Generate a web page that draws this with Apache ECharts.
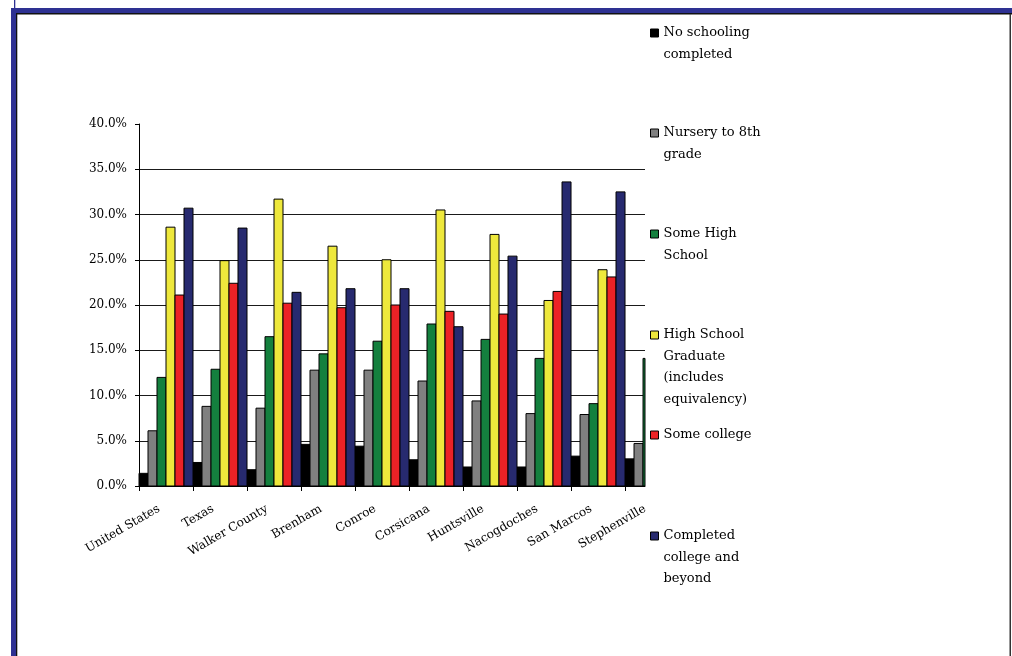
<!DOCTYPE html>
<html>
<head>
<meta charset="utf-8">
<title>Educational attainment</title>
<script src="https://cdn.jsdelivr.net/npm/echarts@6/dist/echarts.min.js"></script>
<style>
  html, body { margin: 0; padding: 0; background: #fff; }
  #main { width: 1012px; height: 656px; }
</style>
</head>
<body>
<div id="main"></div>
<script>
// categories
var places = ['United States', 'Texas', 'Walker County', 'Brenham', 'Conroe',
  'Corsicana', 'Huntsville', 'Nacogdoches', 'San Marcos', 'Stephenville'];
var levels = ['No schooling completed', 'Nursery to 8th grade', 'Some High School',
  'High School Graduate (includes equivalency)', 'Some college', 'Completed college and beyond'];
var legendLines = ['No schooling\ncompleted', 'Nursery to 8th\ngrade', 'Some High\nSchool',
  'High School\nGraduate\n(includes\nequivalency)', 'Some college', 'Completed\ncollege and\nbeyond'];

// percent values (Stephenville's last three are cut off in the original)
var noSchool = [1.4, 2.6, 1.8, 4.6, 4.4, 2.9, 2.1, 2.1, 3.3, 3.0];
var nursery = [6.1, 8.8, 8.6, 12.8, 12.8, 11.6, 9.4, 8.0, 7.9, 4.7];
var someHigh = [12.0, 12.9, 16.5, 14.6, 16.0, 17.9, 16.2, 14.1, 9.1, 14.1];
var hsGrad = [28.6, 24.9, 31.7, 26.5, 25.0, 30.5, 27.8, 20.5, 23.9, null];
var someCollege = [21.1, 22.4, 20.2, 19.7, 20.0, 19.3, 19.0, 21.5, 23.1, null];
var collegePlus = [30.7, 28.5, 21.4, 21.8, 21.8, 17.6, 25.4, 33.6, 32.5, null];

var yTicks = [0, 5, 10, 15, 20, 25, 30, 35, 40];

var allValues = [noSchool, nursery, someHigh, hsGrad, someCollege, collegePlus];
var colors = ['#000000', '#808080', '#14803e', '#eee83c', '#ec2226', '#272a6f'];

var serif = 'DejaVu Serif';
var chart = echarts.init(document.getElementById('main'));

// grouped bars drawn as custom rects so the last group can be cut at the plot edge
function renderBar(params, api) {
  var k = params.seriesIndex;
  var v = api.value(1);
  if (v == null || isNaN(v)) return;
  var base = api.coord([api.value(0), 0]);
  var next = api.coord([api.value(0) + 1, 0]);
  var top = api.coord([api.value(0), v]);
  var w = (next[0] - base[0]) / allValues.length;
  var cs = params.coordSys;
  var rect = echarts.graphic.clipRectByRect(
    { x: base[0] + k * w, y: top[1], width: w, height: base[1] - top[1] },
    { x: cs.x, y: cs.y, width: cs.width, height: cs.height }
  );
  if (!rect) return;
  return {
    type: 'rect',
    shape: rect,
    style: { fill: api.visual('color'), stroke: '#000', lineWidth: 1 }
  };
}

var series = allValues.map(function (vals, k) {
  return {
    name: levels[k],
    type: 'custom',
    xAxisIndex: 0,
    yAxisIndex: 0,
    renderItem: renderBar,
    itemStyle: { color: colors[k] },
    encode: { x: 0, y: 1 },
    data: vals.map(function (v, i) { return [i, v]; })
  };
});

// one legend block per entry, evenly spaced like the original
var iconCenters = [33, 133, 234, 335, 435, 536];
var lh = 21.5;
var legends = levels.map(function (name, k) {
  var n = legendLines[k].split('\n').length;
  var pad = '';
  for (var j = 1; j < n; j++) pad += ' \n';
  return {
    orient: 'vertical',
    left: 650,
    top: iconCenters[k] - (2 * n - 1) * lh / 2,
    padding: 0,
    icon: 'rect',
    itemWidth: 8,
    itemHeight: 8,
    selectedMode: false,
    itemStyle: { color: colors[k], borderColor: '#000', borderWidth: 1 },
    data: [name],
    formatter: function () { return pad + legendLines[k]; },
    textStyle: {
      fontFamily: serif,
      fontSize: 13,
      color: '#000',
      lineHeight: lh
    }
  };
});

var option = {
  animation: false,
  backgroundColor: '#fff',
  color: colors,
  graphic: [
    { type: 'rect', shape: { x: 14, y: 0, width: 1.3, height: 9 }, style: { fill: '#2e3192' } },
    { type: 'rect', shape: { x: 11, y: 8, width: 1001, height: 5 }, style: { fill: '#2e3192' } },
    { type: 'rect', shape: { x: 11, y: 8, width: 5, height: 648 }, style: { fill: '#2e3192' } },
    { type: 'rect', shape: { x: 16, y: 13, width: 996, height: 1.5 }, style: { fill: '#111' } },
    { type: 'rect', shape: { x: 16, y: 13, width: 1.3, height: 643 }, style: { fill: '#111' } },
    { type: 'rect', shape: { x: 1009.5, y: 14, width: 1.5, height: 642 }, style: { fill: '#333' } }
  ],
  legend: legends,
  grid: [
    { left: 139, top: 124, width: 506, bottom: 170, outerBoundsMode: 'none', containLabel: false },
    { left: 132, top: 124, width: 540, bottom: 170, outerBoundsMode: 'none', containLabel: false }
  ],
  xAxis: [
    {
      type: 'value',
      gridIndex: 0,
      min: 0,
      max: 9.37,
      interval: 1,
      axisLine: { show: true, onZero: false, lineStyle: { color: '#000', width: 1 } },
      axisTick: { show: true, length: 5, customValues: [0, 1, 2, 3, 4, 5, 6, 7, 8, 9], lineStyle: { color: '#000' } },
      axisLabel: { show: false },
      splitLine: { show: false }
    },
    {
      type: 'category',
      gridIndex: 1,
      data: places,
      boundaryGap: true,
      axisLine: { show: false },
      axisTick: { show: false },
      splitLine: { show: false },
      axisLabel: {
        interval: 0,
        hideOverlap: false,
        rotate: 30,
        margin: 22,
        fontFamily: serif,
        fontSize: 12,
        color: '#000'
      }
    }
  ],
  yAxis: [
    {
      type: 'value',
      gridIndex: 0,
      min: yTicks[0],
      max: yTicks[yTicks.length - 1],
      interval: 5,
      axisLine: { show: true, lineStyle: { color: '#000', width: 1 } },
      axisTick: { show: true, length: 4, lineStyle: { color: '#000' } },
      axisLabel: {
        margin: 12,
        fontFamily: serif,
        fontSize: 12,
        color: '#000',
        formatter: function (v) { return v.toFixed(1) + '%'; }
      },
      splitLine: { show: true, showMaxLine: false, lineStyle: { color: '#1a1a1a', width: 1 } }
    },
    { type: 'value', gridIndex: 1, min: 0, max: 40, show: false }
  ],
  series: series
};

chart.setOption(option);
</script>
</body>
</html>
